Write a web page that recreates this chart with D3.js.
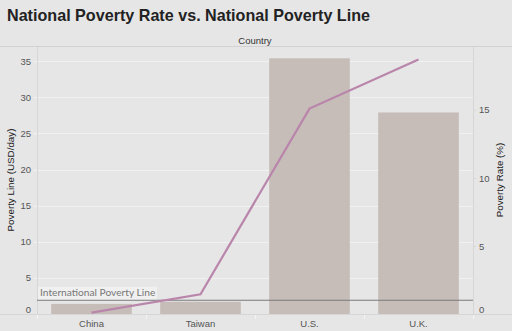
<!DOCTYPE html>
<html>
<head>
<meta charset="utf-8">
<script src="https://d3js.org/d3.v7.min.js"></script>
<style>
    body { margin: 0; background: #e6e6e6; }
    svg { display: block; font-family: "Liberation Sans", Arial, sans-serif; }
</style>
</head>
<body>
<svg id="chart" width="512" height="331"></svg>
<script>
    // values
    const countries = ["China", "Taiwan", "U.S.", "U.K."];
    const povertyLine = [1.4, 1.7, 35.4, 27.9];      // USD/day (bars, left axis)
    const povertyRate = [0.1, 1.45, 15.1, 18.7];     // % (line, right axis)
    const lineTicks = [0, 5, 10, 15, 20, 25, 30, 35];
    const rateTicks = [0, 5, 10, 15];
    const intlLine = 1.9;

    const svg = d3.select("#chart");
    const width = +svg.attr("width");
    const height = +svg.attr("height");
    const plot = { left: 37, right: 473, top: 46, bottom: 314 };

    const x = d3.scaleBand().domain(countries).range([plot.left, plot.right])
        .paddingInner(0.26).paddingOuter(0.13);
    const xCol = d3.scaleBand().domain(countries).range([plot.left, plot.right]);
    const yLeft = d3.scaleLinear().domain([0, 37.1]).range([plot.bottom, plot.top]);
    const yRight = d3.scaleLinear().domain([0, 19.7]).range([plot.bottom, plot.top]);

    // title
    svg.append("text")
        .attr("x", 7).attr("y", 21)
        .attr("font-size", 17).attr("font-weight", "bold")
        .attr("fill", "#222")
        .attr("textLength", 363).attr("lengthAdjust", "spacingAndGlyphs")
        .text("National Poverty Rate vs. National Poverty Line");

    // column header
    svg.append("text")
        .attr("x", (plot.left + plot.right) / 2).attr("y", 43.5)
        .attr("text-anchor", "middle").attr("font-size", 9.5).attr("fill", "#333")
        .text("Country");
    svg.append("line").attr("x1", 0).attr("x2", width).attr("y1", 46.5).attr("y2", 46.5)
        .attr("stroke", "#d2d2d2");

    // gridlines
    svg.append("g").selectAll("line").data(lineTicks.slice(1)).join("line")
        .attr("x1", plot.left - 3).attr("x2", plot.right)
        .attr("y1", d => Math.round(yLeft(d)) + 0.5).attr("y2", d => Math.round(yLeft(d)) + 0.5)
        .attr("stroke", "#f1f1f1");

    // left axis
    const leftAxis = svg.append("g")
        .attr("transform", `translate(${plot.left},0)`)
        .call(d3.axisLeft(yLeft).tickValues(lineTicks).tickSize(3).tickPadding(3));
    leftAxis.select(".domain").remove();
    leftAxis.selectAll(".tick line").attr("stroke", "#f1f1f1");
    leftAxis.selectAll(".tick text").attr("font-size", 9.5).attr("fill", "#555")
        .attr("font-family", "Liberation Sans, Arial, sans-serif")
        .attr("dy", d => d === 0 ? "-0.2em" : "0.32em");

    // right axis
    const rightAxis = svg.append("g")
        .attr("transform", `translate(${plot.right},0)`)
        .call(d3.axisRight(yRight).tickValues(rateTicks).tickSize(3).tickPadding(3));
    rightAxis.select(".domain").remove();
    rightAxis.selectAll(".tick line").attr("stroke", "#d8d8d8");
    rightAxis.selectAll(".tick text").attr("font-size", 9.5).attr("fill", "#555")
        .attr("font-family", "Liberation Sans, Arial, sans-serif")
        .attr("dy", d => d === 0 ? "-0.2em" : "0.32em");

    // bars
    svg.append("g").selectAll("rect").data(countries).join("rect")
        .attr("x", d => x(d))
        .attr("width", x.bandwidth())
        .attr("y", (d, i) => yLeft(povertyLine[i]))
        .attr("height", (d, i) => yLeft(0) - yLeft(povertyLine[i]))
        .attr("fill", "#c6bdb9");

    // frame lines
    svg.append("line").attr("x1", plot.left + 0.5).attr("x2", plot.left + 0.5)
        .attr("y1", 47).attr("y2", 318).attr("stroke", "#d6d6d6");
    svg.append("line").attr("x1", plot.right + 0.5).attr("x2", plot.right + 0.5)
        .attr("y1", 47).attr("y2", 318).attr("stroke", "#d6d6d6");
    svg.append("line").attr("x1", 0).attr("x2", width).attr("y1", 314.5).attr("y2", 314.5)
        .attr("stroke", "#d6d6d6");

    // bottom axis
    const bottomAxis = svg.append("g")
        .attr("transform", `translate(0,${plot.bottom})`)
        .call(d3.axisBottom(x).tickSize(0).tickPadding(6));
    bottomAxis.select(".domain").remove();
    bottomAxis.selectAll(".tick text").attr("font-size", 9.5).attr("fill", "#555")
        .attr("font-family", "Liberation Sans, Arial, sans-serif");
    svg.append("g").selectAll("line").data(countries.concat(["end"])).join("line")
        .attr("x1", d => (d === "end" ? plot.right : xCol(d)) + 0.5)
        .attr("x2", d => (d === "end" ? plot.right : xCol(d)) + 0.5)
        .attr("y1", 315).attr("y2", 319)
        .attr("stroke", "#f4f4f4");

    // reference line
    svg.append("line")
        .attr("x1", plot.left).attr("x2", plot.right)
        .attr("y1", yLeft(intlLine)).attr("y2", yLeft(intlLine))
        .attr("stroke", "#7a7a7a").attr("stroke-width", 1.2);
    svg.append("rect")
        .attr("x", plot.left + 1).attr("y", yLeft(intlLine) - 13.5)
        .attr("width", 119).attr("height", 12.5)
        .attr("fill", "#f0f0f0");
    svg.append("text")
        .attr("x", plot.left + 3).attr("y", yLeft(intlLine) - 4)
        .attr("font-size", 10.2).attr("fill", "#777")
        .attr("font-family", "Lato, sans-serif")
        .text("International Poverty Line");

    // poverty rate line
    const line = d3.line()
        .x((d, i) => x(countries[i]) + x.bandwidth() / 2)
        .y(d => yRight(d));
    svg.append("path").datum(povertyRate)
        .attr("d", line)
        .attr("fill", "none")
        .attr("stroke", "#b985ab")
        .attr("stroke-width", 2.2);

    // axis titles
    svg.append("text")
        .attr("transform", "translate(14,180) rotate(-90)")
        .attr("text-anchor", "middle").attr("font-size", 9.8).attr("fill", "#222")
        .text("Poverty Line (USD/day)");
    svg.append("text")
        .attr("transform", "translate(503,180) rotate(-90)")
        .attr("text-anchor", "middle").attr("font-size", 9.8).attr("fill", "#222")
        .text("Poverty Rate (%)");
</script>
</body>
</html>
